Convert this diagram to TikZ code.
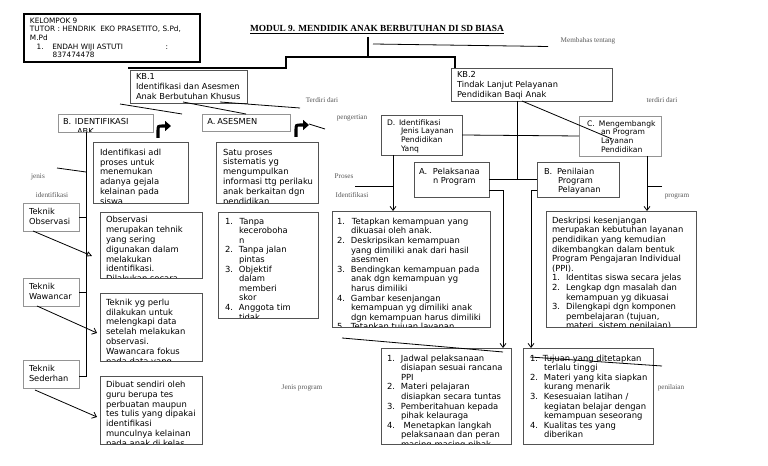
\documentclass[tikz,border=0pt]{standalone}
\usepackage{fontspec}
\setmainfont{Liberation Serif}
\newfontfamily\dvs{DejaVu Sans}
\usetikzlibrary{arrows.meta}
\newlength\itw
\setlength\itw{10.5pt}
\newcommand\myitem[1]{\makebox[\itw][l]{#1}}
\newcommand\mycont{\hspace*{\itw}}
% name, x1, y1, x2, y2, box style, text style, text
\newcommand\tbox[8]{%
  \node[tb, #6, minimum width={(#4-#2)*0.75pt}, minimum height={(#5-#3)*0.75pt},
    path picture={\node[#7] at (path picture bounding box.north west) {#8};}] (#1) at (#2,#3) {};}
\begin{document}
\begin{tikzpicture}[x=0.75pt,y=-0.75pt,
  tb/.style={draw=black!68, line width=0.7pt, anchor=north west, inner sep=0pt, outer sep=0pt, fill=white},
  boxl/.style={draw=black!42},
  tb0/.style={anchor=north west, inner sep=0pt, outer sep=0pt, minimum width=0pt, minimum height=0pt, draw=none, fill=none, align=left, text=black},
  fA/.style={tb0, font=\dvs\fontsize{6.3}{7.35}\selectfont},
  fL/.style={tb0, font=\dvs\fontsize{6.3}{7.2}\selectfont},
  fS/.style={tb0, font=\dvs\fontsize{5.7}{6.5}\selectfont},
  fK/.style={tb0, font=\dvs\fontsize{5.5}{6.4}\selectfont},
  fKB/.style={tb0, font=\dvs\fontsize{6.2}{7.5}\selectfont},
  fAB/.style={tb0, font=\dvs\fontsize{6.2}{6.75}\selectfont},
  fT/.style={tb0, font=\dvs\fontsize{6.2}{7.1}\selectfont},
  lab/.style={font=\fontsize{5.4}{6}\selectfont, text=black!65, inner sep=0pt},
  conn/.style={draw=black, line width=0.6pt},
  bconn/.style={draw=black, line width=0.9pt},
  oarr/.style={-{Triangle[open,length=4pt,width=4pt]}},
  barb/.style={-{Straight Barb[length=3pt,width=5pt]}},
  varr/.style={-{Straight Barb[length=3pt,width=4.5pt]}},
  icon/.style={draw=black, line width=2.3pt, -{Triangle[length=4.5pt,width=7.5pt]}},
]
\fill[white] (0,0) rectangle (768,466);
\useasboundingbox (0,0) rectangle (768,466);

% ---- title and top box
\tbox{kel}{24}{14}{200}{62}{draw=black, line width=1.2pt}{fK, xshift=4.5pt, yshift=-3pt}{KELOMPOK 9\\TUTOR : HENDRIK\ \ EKO PRASETITO, S.Pd,\\M.Pd\\\hspace*{5pt}1.\hspace{6.5pt}ENDAH WIJI ASTUTI\hspace{32pt}:\\\hspace*{17pt}837474478}
\node[font=\bfseries\fontsize{7}{8}\selectfont, inner sep=0pt] (title) at (377,30) {\underline{MODUL 9. MENDIDIK ANAK BERBUTUHAN DI SD BIASA}};
\node[lab] (lmemb) at (588,41) {Membahas tentang};

% ---- KB boxes
\tbox{kb1}{130}{70}{247}{103}{}{fKB, xshift=4.5pt, yshift=-2.4pt}{KB.1\\Identifikasi dan Asesmen\\Anak Berbutuhan Khusus}
\tbox{kb2}{451}{68}{612}{101}{}{fKB, xshift=4.5pt, yshift=-2.6pt}{KB.2\\Tindak Lanjut Pelayanan\\Pendidikan Baqi Anak}

% ---- KB1 branch
\tbox{bid}{58}{114}{153}{132}{boxl}{fKB, xshift=3.75pt, yshift=-3.2pt}{\setlength\itw{9pt}\myitem{B.}IDENTIFIKASI\\\mycont ABK}
\tbox{aas}{202}{114}{290}{131}{boxl}{fKB, xshift=4pt, yshift=-3.2pt}{\setlength\itw{7.5pt}\myitem{A.}ASESMEN}
\tbox{idesc}{93}{142}{188}{203}{}{fA, xshift=5.25pt, yshift=-5.2pt}{Identifikasi adl\\proses untuk\\menemukan\\adanya gejala\\kelainan pada\\siswa}
\tbox{adesc}{216}{142}{318}{203}{}{fA, xshift=5.25pt, yshift=-5.2pt}{Satu proses\\sistematis yg\\mengumpulkan\\informasi ttg perilaku\\anak berkaitan dgn\\pendidikan}

\tbox{tob}{23}{203}{79}{231}{boxl}{fT, xshift=4.5pt, yshift=-4.2pt}{Teknik\\Observasi}
\tbox{twa}{23}{278}{79}{306}{boxl}{fT, xshift=4.5pt, yshift=-4.2pt}{Teknik\\Wawancar}
\tbox{tse}{23}{360}{79}{388}{boxl}{fT, xshift=4.5pt, yshift=-4.2pt}{Teknik\\Sederhan}

\tbox{obs}{100}{212}{202}{278}{}{fA, xshift=4.5pt, yshift=-3.4pt}{Observasi\\merupakan tehnik\\yang sering\\digunakan dalam\\melakukan\\identifikasi.\\Dilakukan secara}
\tbox{twd}{100}{293}{202}{361}{}{fA, xshift=4.5pt, yshift=-4.5pt}{Teknik yg perlu\\dilakukan untuk\\melengkapi data\\setelah melakukan\\observasi.\\Wawancara fokus\\pada data yang}
\tbox{dib}{100}{376}{202}{444}{}{fA, xshift=4.5pt, yshift=-3.8pt}{Dibuat sendiri oleh\\guru berupa tes\\perbuatan maupun\\tes tulis yang dipakai\\identifikasi\\munculnya kelainan\\pada anak di kelas}

\tbox{alist}{218}{212}{318}{318}{}{fL, xshift=5.25pt, yshift=-4.5pt}{\setlength\itw{11pt}\myitem{1.}Tanpa\\\mycont keceroboha\\\mycont n\\\myitem{2.}Tanpa jalan\\\mycont pintas\\\myitem{3.}Objektif\\\mycont dalam\\\mycont memberi\\\mycont skor\\\myitem{4.}Anggota tim\\\mycont tidak}

% ---- KB2 branch
\tbox{dbox}{381}{115}{462}{155}{}{fS, xshift=4.5pt, yshift=-3.2pt}{\setlength\itw{9pt}\myitem{D.}Identifikasi\\\mycont Jenis Layanan\\\mycont Pendidikan\\\mycont Yanq}
\tbox{cbox}{579}{116}{661}{156}{boxl}{fS, xshift=6pt, yshift=-3.2pt}{\setlength\itw{9pt}\myitem{C.}Mengembangk\\\mycont an Program\\\mycont Layanan\\\mycont Pendidikan}
\tbox{apel}{414}{162}{489}{197}{}{fAB, xshift=3.75pt, yshift=-4.5pt}{\setlength\itw{10.5pt}\myitem{A.}Pelaksanaa\\\mycont n Program}
\tbox{bpen}{537}{162}{619}{197}{}{fAB, xshift=5.25pt, yshift=-4.5pt}{\setlength\itw{9.75pt}\myitem{B.}Penilaian\\\mycont Program\\\mycont Pelayanan}

\tbox{list1}{332}{211}{490}{327}{}{fL, xshift=3.75pt, yshift=-5.25pt}{\setlength\itw{11.25pt}\myitem{1.}Tetapkan kemampuan yang\\\mycont dikuasai oleh anak.\\\myitem{2.}Deskripsikan kemampuan\\\mycont yang dimiliki anak dari hasil\\\mycont asesmen\\\myitem{3.}Bendingkan kemampuan pada\\\mycont anak dgn kemampuan yg\\\mycont harus dimiliki\\\myitem{4.}Gambar kesenjangan\\\mycont kemampuan yg dimiliki anak\\\mycont dgn kemampuan harus dimiliki\\\myitem{5.}Tetapkan tujuan layanan}
\tbox{list2}{546}{211}{696}{327}{}{fL, xshift=4.5pt, yshift=-4.5pt}{\setlength\itw{9.75pt}Deskripsi kesenjangan\\merupakan kebutuhan layanan\\pendidikan yang kemudian\\dikembangkan dalam bentuk\\Program Pengajaran Individual\\(PPI).\\\myitem{1.}Identitas siswa secara jelas\\\myitem{2.}Lengkap dgn masalah dan\\\mycont kemampuan yg dikuasai\\\myitem{3.}Dilengkapi dgn komponen\\\mycont pembelajaran (tujuan,\\\mycont materi, sistem penilaian)}

\tbox{jad}{381}{348}{511}{444}{}{fL, xshift=4.5pt, yshift=-5pt}{\setlength\itw{10.5pt}\myitem{1.}Jadwal pelaksanaan\\\mycont disiapan sesuai rancana\\\mycont PPI\\\myitem{2.}Materi pelajaran\\\mycont disiapkan secara tuntas\\\myitem{3.}Pemberitahuan kepada\\\mycont pihak kelauraga\\\myitem{4.}\hspace{2pt}Menetapkan langkah\\\mycont pelaksanaan dan peran\\\mycont masing-masing pihak}
\tbox{tuj}{523}{348}{653}{444}{}{fL, xshift=5.25pt, yshift=-5pt}{\setlength\itw{9.75pt}\myitem{1.}Tujuan yang ditetapkan\\\mycont terlalu tinggi\\\myitem{2.}Materi yang kita siapkan\\\mycont kurang menarik\\\myitem{3.}Kesesuaian latihan /\\\mycont kegiatan belajar dengan\\\mycont kemampuan seseorang\\\myitem{4.}Kualitas tes yang\\\mycont diberikan}

% ---- labels
\node[lab] (lterd) at (322,100) {Terdiri dari};
\node[lab] (lterd2) at (662,100) {terdiri dari};
\node[lab] (lpeng) at (352,118) {pengertian};
\node[lab] (ljenis) at (38,177) {jenis};
\node[lab] (lident) at (52,195) {identifikasi};
\node[lab] (lpros) at (344,176) {Proses};
\node[lab] (lident2) at (352,195) {Identifikasi};
\node[lab] (lprog) at (677,196) {program};
\node[lab] (ljp) at (302,388) {Jenis program};
\node[lab] (lpen) at (671,388) {penilaian};

% ---- top bracket
\coordinate (tv1) at (368,37);
\coordinate (tv2) at (368,57);
\coordinate (tl) at (286,57);
\coordinate (tr) at (455,57);
\coordinate (tle) at (128,68);
\draw[bconn] (tv1) -- (tv2);
\draw[bconn] (tle) -- (tle -| tl) -- (tl) -- (tr) -- (tr |- kb2.north);
\coordinate (m1) at (373,44);
\coordinate (m2) at (548,46.5);
\draw[conn] (m1) -- (m2);

% ---- KB1 lines
\coordinate (k1a) at (120,104);
\coordinate (k1b) at (182,114);
\coordinate (k2a) at (183,102);
\coordinate (k3a) at (220,102);
\coordinate (k3b) at (300,108);
\draw[conn] (k1a) -- (k1b);
\draw[conn] (k2a) -- (aas.north);
\draw[conn] (k3a) -- (k3b);

% curved icons
\draw[icon] (158,138) -- (158,131) .. controls (158,126) .. (163,126) -- (171,126);
\draw[icon] (296,137) -- (296,130) .. controls (296,125) .. (301,125) -- (309,125);
\coordinate (as1) at (309,124);
\coordinate (as2) at (325,129);
\draw[conn] (as1) -- (as2);

% left bracket
\coordinate (lb1) at (86,132);
\coordinate (lb2) at (86,376);
\coordinate (j1) at (57,168);
\coordinate (j2) at (86,172);
\draw[conn] (lb1) -- (lb2) -- (tse.east |- lb2);
\draw[conn] (tob.east) -- (tob.east -| lb1);
\draw[conn] (twa.east) -- (twa.east -| lb1);
\draw[conn] (j1) -- (j2);
\draw[conn, oarr] ([xshift=7.5pt]tob.south west) -- ([xshift=-6pt,yshift=-8.25pt]obs.west);
\draw[conn, barb] ([xshift=10.5pt]twa.south west) -- ([xshift=-2.25pt,yshift=-4.5pt]twd.west);
\draw[conn, barb] ([xshift=9pt,yshift=-1.5pt]tse.south west) -- ([xshift=-2.25pt,yshift=-5.25pt]dib.west);

% ---- KB2 connectors
\coordinate (kv1) at (517,101);
\draw[conn] (kv1) -- (kv1 |- apel.east);
\draw[conn] (dbox.east) -- (cbox.west);
\draw[conn] (apel.east) -- (bpen.west);
\coordinate (kd1) at (522,101);
\coordinate (kd2) at (612,139);
\draw[conn] (kd1) -- (kd2);

\coordinate (dv1) at (393,155);
\draw[conn, varr] (dv1) -- (dv1 |- list1.north);
\coordinate (pr1) at (355,186);
\draw[conn] (pr1) -- (pr1 -| dv1);
\coordinate (cv1) at (647,156);
\draw[conn, varr] (cv1) -- (cv1 |- list2.north);
\coordinate (pg1) at (662,186);
\draw[conn] (pg1) -- (pg1 -| cv1);

\coordinate (aj) at (503,190);
\draw[conn, varr] (apel.east |- aj) -- (aj) -- (aj |- jad.north);
\coordinate (bj) at (531,190);
\draw[conn, varr] (bpen.west |- bj) -- (bj) -- (bj |- tuj.north);

\coordinate (jp1) at (342,338);
\coordinate (jp2) at (503,352);
\draw[conn] (jp1) -- (jp2);
\coordinate (pn1) at (530,357);
\coordinate (pn2) at (662,366);
\draw[conn] (pn1) -- (pn2);
\end{tikzpicture}
\end{document}
